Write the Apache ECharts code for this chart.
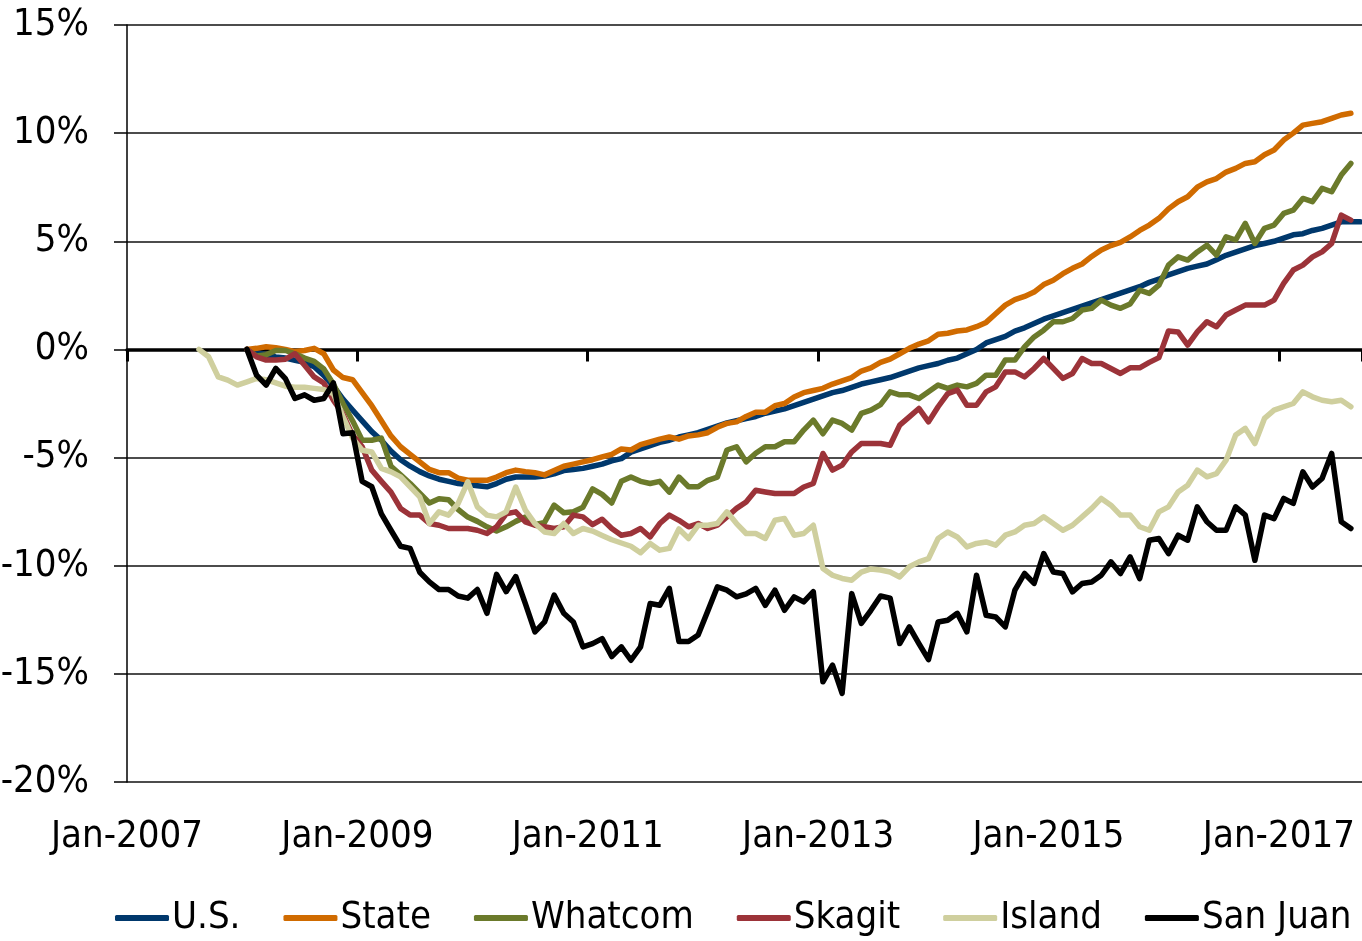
<!DOCTYPE html>
<html>
<head>
<meta charset="utf-8">
<script src="https://cdn.jsdelivr.net/npm/echarts@6/dist/echarts.min.js"></script>
<style>
html,body{margin:0;padding:0;background:#fff;}
#chart{width:1362px;height:941px;}
</style>
</head>
<body>
<div id="chart"></div>
<script>
// Months are counted from Jan-2007 (index 0). Values are % change.
const seriesNames = ['U.S.', 'State', 'Whatcom', 'Skagit', 'Island', 'San Juan'];
const xTickLabels = ['Jan-2007', 'Jan-2009', 'Jan-2011', 'Jan-2013', 'Jan-2015', 'Jan-2017'];
const yTickLabels = ['-20%', '-15%', '-10%', '-5%', '0%', '5%', '10%', '15%'];

const usStart = 12; // Jan-2008
const usValues = [
  0, -0.15, -0.25, -0.35, -0.4, -0.5, -0.6, -0.8, -1.2, -1.7, -2.3, -2.8,
  -3.3, -3.8, -4.2, -4.7, -5.1, -5.4, -5.65, -5.85, -6.0, -6.1, -6.2, -6.25,
  -6.3, -6.35, -6.2, -6.0, -5.9, -5.9, -5.9, -5.85, -5.75, -5.6, -5.55, -5.5,
  -5.4, -5.3, -5.15, -5.05, -4.75, -4.6, -4.45, -4.3, -4.2, -4.05, -3.95, -3.85,
  -3.7, -3.55, -3.4, -3.3, -3.2, -3.1, -2.95, -2.85, -2.75, -2.6, -2.45, -2.3,
  -2.15, -2.0, -1.9, -1.75, -1.6, -1.5, -1.4, -1.3, -1.15, -1.0, -0.85, -0.75,
  -0.65, -0.5, -0.4, -0.2, 0.0, 0.3, 0.45, 0.6, 0.85, 1.0, 1.2, 1.4,
  1.55, 1.7, 1.85, 2.0, 2.15, 2.3, 2.45, 2.6, 2.75, 2.9, 3.1, 3.25,
  3.45, 3.6, 3.75, 3.85, 3.95, 4.15, 4.35, 4.5, 4.65, 4.8, 4.9, 5.0,
  5.15, 5.3, 5.35, 5.5, 5.6, 5.75, 5.9, 5.9, 5.9
];

const stateStart = 12;
const stateValues = [
  0, 0.05, 0.12, 0.08, 0.0, -0.1, -0.05, 0.05, -0.2, -0.95, -1.3, -1.4,
  -2.0, -2.6, -3.3, -4.0, -4.5, -4.85, -5.2, -5.55, -5.7, -5.7, -5.95, -6.05,
  -6.05, -6.05, -5.9, -5.7, -5.58, -5.65, -5.7, -5.8, -5.6, -5.4, -5.3, -5.2,
  -5.1, -4.97, -4.85, -4.6, -4.65, -4.4, -4.27, -4.15, -4.05, -4.15, -4.0, -3.95,
  -3.85, -3.6, -3.42, -3.35, -3.1, -2.9, -2.9, -2.6, -2.5, -2.2, -2.0, -1.9,
  -1.8, -1.6, -1.45, -1.3, -1.0, -0.85, -0.6, -0.45, -0.2, 0.05, 0.25, 0.4,
  0.7, 0.75, 0.85, 0.9, 1.05, 1.25, 1.65, 2.05, 2.3, 2.45, 2.65, 3.0,
  3.2, 3.5, 3.75, 3.95, 4.3, 4.6, 4.8, 4.95, 5.2, 5.5, 5.75, 6.06,
  6.5, 6.83, 7.06, 7.5, 7.75, 7.9, 8.2, 8.37, 8.6, 8.68, 9.0, 9.22,
  9.68, 10.0, 10.37, 10.45, 10.53, 10.68, 10.84, 10.92
];

const whatcomStart = 12;
const whatcomValues = [
  0, -0.3, -0.25, -0.05, -0.05, -0.2, -0.4, -0.55, -0.9, -1.6, -2.5, -3.3,
  -4.2, -4.2, -4.1, -5.4, -5.8, -6.2, -6.65, -7.1, -6.9, -6.95, -7.4, -7.75,
  -7.95, -8.2, -8.4, -8.2, -7.95, -7.75, -8.1, -8.0, -7.2, -7.55, -7.5, -7.3,
  -6.45, -6.7, -7.1, -6.1, -5.9, -6.1, -6.2, -6.1, -6.6, -5.9, -6.35, -6.35,
  -6.05, -5.9, -4.65, -4.5, -5.2, -4.8, -4.5, -4.5, -4.27, -4.27, -3.73, -3.27,
  -3.9, -3.27, -3.42, -3.73, -2.96, -2.81, -2.55, -1.96, -2.1, -2.1, -2.27, -1.96,
  -1.65, -1.8, -1.65, -1.73, -1.57, -1.19, -1.19, -0.49, -0.49, 0.12, 0.58, 0.89,
  1.28, 1.28, 1.43, 1.82, 1.9, 2.28, 2.05, 1.9, 2.1, 2.74, 2.59, 2.97,
  3.9, 4.28, 4.13, 4.51, 4.82, 4.36, 5.21, 5.06, 5.83, 4.9, 5.6, 5.75,
  6.29, 6.44, 6.98, 6.83, 7.45, 7.29, 8.06, 8.6
];

const skagitStart = 12;
const skagitValues = [
  0, -0.34, -0.49, -0.49, -0.45, -0.2, -0.73, -1.27, -1.55, -2.35, -3.0, -3.96,
  -4.5, -5.58, -6.1, -6.6, -7.35, -7.66, -7.66, -8.05, -8.13, -8.28, -8.28, -8.28,
  -8.36, -8.51, -8.2, -7.6, -7.51, -7.97, -8.13, -8.2, -8.28, -8.2, -7.66, -7.74,
  -8.1, -7.85, -8.28, -8.59, -8.51, -8.28, -8.67, -8.05, -7.66, -7.9, -8.2, -8.05,
  -8.28, -8.13, -7.74, -7.35, -7.05, -6.51, -6.59, -6.66, -6.66, -6.66, -6.36, -6.2,
  -4.81, -5.58, -5.35, -4.74, -4.35, -4.35, -4.35, -4.43, -3.5, -3.12, -2.73, -3.35,
  -2.65, -2.04, -1.88, -2.58, -2.58, -1.96, -1.73, -1.04, -1.04, -1.27, -0.88, -0.42,
  -0.88, -1.34, -1.11, -0.42, -0.65, -0.65, -0.88, -1.11, -0.85, -0.85, -0.6, -0.38,
  0.85, 0.81, 0.2, 0.81, 1.28, 1.05, 1.59, 1.82, 2.05, 2.05, 2.05, 2.28,
  3.05, 3.67, 3.9, 4.28, 4.51, 4.9, 6.21, 5.98
];

const islandStart = 7; // Aug-2007
const islandValues = [
  0, -0.34, -1.27, -1.42, -1.65,
  -1.5, -1.34, -1.4, -1.55, -1.7, -1.75, -1.75, -1.8, -1.85, -2.05, -3.1, -4.1,
  -4.66, -4.74, -5.5, -5.66, -5.89, -6.36, -6.82, -8.05, -7.51, -7.66, -7.12, -6.12,
  -7.28, -7.66, -7.74, -7.51, -6.36, -7.43, -8.05, -8.44, -8.51, -8.05, -8.51, -8.28,
  -8.4, -8.6, -8.8, -8.95, -9.1, -9.4, -8.97, -9.28, -9.2, -8.3, -8.74, -8.13,
  -8.13, -8.05, -7.51, -8.05, -8.51, -8.51, -8.74, -7.9, -7.82, -8.59, -8.51, -8.13,
  -10.13, -10.44, -10.59, -10.67, -10.3, -10.15, -10.2, -10.29, -10.52, -10.05, -9.82, -9.67,
  -8.74, -8.44, -8.67, -9.13, -8.97, -8.9, -9.05, -8.59, -8.44, -8.13, -8.05, -7.74,
  -8.05, -8.36, -8.13, -7.74, -7.35, -6.89, -7.2, -7.66, -7.66, -8.2, -8.36, -7.51,
  -7.28, -6.59, -6.28, -5.58, -5.89, -5.74, -5.12, -3.96, -3.65, -4.35, -3.19, -2.81,
  -2.65, -2.5, -1.96, -2.19, -2.35, -2.42, -2.35, -2.65
];

const sanJuanStart = 12;
const sanJuanValues = [
  0, -1.19, -1.65, -0.88, -1.35, -2.27, -2.1, -2.35, -2.27, -1.55, -3.9, -3.85,
  -6.1, -6.35, -7.6, -8.36, -9.1, -9.2, -10.3, -10.75, -11.1, -11.1, -11.4, -11.5,
  -11.1, -12.2, -10.4, -11.2, -10.5, -11.75, -13.06, -12.6, -11.36, -12.2, -12.6, -13.75,
  -13.6, -13.37, -14.2, -13.75, -14.37, -13.75, -11.75, -11.83, -11.05, -13.5, -13.5, -13.2,
  -12.1, -10.98, -11.13, -11.44, -11.3, -11.05, -11.83, -11.13, -12.06, -11.44, -11.67, -11.2,
  -15.37, -14.6, -15.9, -11.29, -12.67, -12.06, -11.4, -11.5, -13.6, -12.83, -13.6, -14.34,
  -12.6, -12.52, -12.2, -13.06, -10.44, -12.29, -12.37, -12.83, -11.13, -10.36, -10.82, -9.44,
  -10.29, -10.36, -11.21, -10.82, -10.75, -10.44, -9.82, -10.36, -9.59, -10.6, -8.82, -8.74,
  -9.44, -8.59, -8.82, -7.28, -7.97, -8.36, -8.36, -7.28, -7.66, -9.75, -7.66, -7.82,
  -6.89, -7.12, -5.66, -6.36, -5.97, -4.81, -7.97, -8.28
];

// ---------- build chart ----------
const FONT = "'Liberation Sans Narrow', 'Arial Narrow', 'DejaVu Sans Condensed', sans-serif";
const colors = ['#00386C', '#D06B00', '#6B7A2B', '#9C3339', '#CFCF9E', '#000000'];
const starts = [usStart, stateStart, whatcomStart, skagitStart, islandStart, sanJuanStart];
const values = [usValues, stateValues, whatcomValues, skagitValues, islandValues, sanJuanValues];

// each monthly value is plotted at the middle of its month
function toPoints(start, vals) {
  return vals.map((v, i) => [start + i + 0.5, v]);
}

const series = seriesNames.map((name, k) => ({
  name: name,
  type: 'line',
  xAxisIndex: 0,
  yAxisIndex: 0,
  data: toPoints(starts[k], values[k]),
  showSymbol: false,
  symbol: 'none',
  lineStyle: { color: colors[k], width: 5.5, cap: 'round', join: 'round' },
  itemStyle: { color: colors[k] },
  emphasis: { disabled: true },
  z: 3 + k
}));

const xMax = 128.66;
const chart = echarts.init(document.getElementById('chart'), null, { renderer: 'canvas' });
chart.setOption({
  animation: false,
  backgroundColor: '#ffffff',
  textStyle: { fontFamily: FONT },
  grid: { left: 127, right: 0, top: 25, bottom: 159, containLabel: false, outerBoundsMode: 'none' },
  legend: {
    data: seriesNames,
    left: 110,
    top: 894,
    icon: 'roundRect',
    itemWidth: 54,
    itemHeight: 6,
    itemGap: 43,
    textStyle: { fontFamily: FONT, fontSize: 38, color: '#000', padding: [0, 0, 0, -2] },
    selectedMode: false
  },
  xAxis: [
    {
      type: 'value',
      min: 0,
      max: xMax,
      interval: 24,
      position: 'bottom',
      axisLine: { show: false, onZero: false },
      axisTick: { show: false },
      splitLine: { show: false },
      axisLabel: {
        fontFamily: FONT,
        fontSize: 38,
        color: '#000',
        margin: 36,
        showMaxLabel: false,
        formatter: function (v) {
          const idx = Math.round(v / 24);
          return (Math.abs(v - idx * 24) < 1e-6 && xTickLabels[idx]) ? xTickLabels[idx] : '';
        }
      }
    },
    {
      type: 'value',
      min: 0,
      max: xMax,
      interval: 24,
      position: 'bottom',
      offset: 0,
      axisLine: { show: true, onZero: true, lineStyle: { color: '#000', width: 3.5 } },
      axisTick: { show: true, length: 12, lineStyle: { color: '#000', width: 3 } },
      axisLabel: { show: false },
      splitLine: { show: false }
    }
  ],
  yAxis: {
    type: 'value',
    min: -20,
    max: 15,
    interval: 5,
    axisLine: { show: true, onZero: false, lineStyle: { color: '#000', width: 1.5 } },
    axisTick: { show: true, length: 13, lineStyle: { color: '#000', width: 1.5 } },
    splitLine: { show: true, lineStyle: { color: '#111', width: 1.5 } },
    axisLabel: {
      fontFamily: FONT,
      fontSize: 38,
      color: '#000',
      margin: 38,
      formatter: function (v) {
        const idx = Math.round((v + 20) / 5);
        return yTickLabels[idx] !== undefined ? yTickLabels[idx] : '';
      }
    }
  },
  series: series
});
</script>
</body>
</html>
